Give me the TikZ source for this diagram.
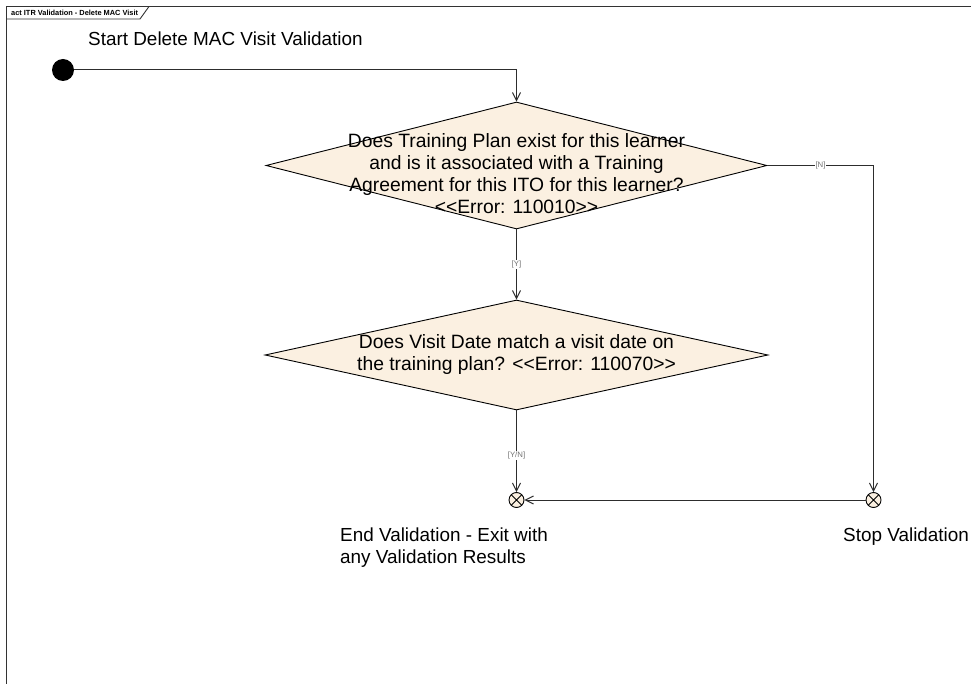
\documentclass[tikz,border=0pt]{standalone}
\usepackage{fontspec}
\setmainfont{Liberation Sans}
\usetikzlibrary{arrows.meta,positioning,shapes.geometric}
\definecolor{actfill}{RGB}{251,240,225}
\definecolor{lnk}{RGB}{45,45,45}
\tikzset{
  initnode/.style={circle,fill=black,minimum size=22pt,inner sep=0pt},
  decnode/.style={diamond,draw,fill=actfill,line width=0.9pt,inner sep=0pt},
  dtext/.style={align=center,font=\fontsize{19.3}{22}\selectfont,inner sep=0pt},
  fnode/.style={circle,draw,fill=actfill,line width=0.9pt,minimum size=15pt,inner sep=0pt,
    path picture={\draw[line width=0.9pt] (path picture bounding box.north west) -- (path picture bounding box.south east)
      (path picture bounding box.north east) -- (path picture bounding box.south west);}},
  lbl/.style={anchor=west,align=left,font=\fontsize{18.9}{22}\selectfont,inner sep=0pt},
  glbl/.style={font=\fontsize{7.8}{8}\selectfont,text=black!55,fill=white,inner sep=1pt},
  fe/.style={-{Straight Barb[length=8pt,width=8pt]},line width=1pt,draw=lnk}
}

\begin{document}
\begin{tikzpicture}[x=1pt,y=-1pt]
\useasboundingbox (0,0) rectangle (971,684);
\draw[line width=1.2pt,black!80] (971,6.5) -- (6.5,6.5) -- (6.5,684);
\draw[line width=0.9pt,black!80] (6.5,19) -- (140,19) -- (149,6.5);
\node[anchor=west,inner sep=0pt,font=\bfseries\fontsize{7.4}{8}\selectfont] (title) at (11,13) {act ITR Validation - Delete MAC Visit};

\node[initnode] (S) at (63,70) {};
\node[lbl] (Slbl) at (88,39) {Start Delete MAC Visit Validation};

\node[decnode,minimum width=501pt,minimum height=127pt] (D1) at (516.5,165.5) {};
\node[dtext] (D1txt) at (516.5,174) {Does Training Plan exist for this learner\\and is it associated with a Training\\Agreement for this ITO for this learner?\\<{}<Error: 110010>{}>};

\node[decnode,minimum width=503pt,minimum height=110pt] (D2) at (516.5,355) {};
\node[dtext] (D2txt) at (516.5,355) {Does Visit Date match a visit date on\\the training plan? <{}<Error: 110070>{}>};

\node[fnode] (E1) at (516.5,500) {};
\node[fnode] (E2) at (873.5,500) {};
\node[lbl] (E1lbl) at (340,548) {End Validation - Exit with\\any Validation Results};
\node[lbl] (E2lbl) at (843,537) {Stop Validation};

\draw[fe] (S) -| (D1.north);
\draw[fe] (D1.south) -- node[glbl] {[Y]} (D2.north);
\draw[fe] (D2.south) -- node[glbl,pos=0.55] {[Y/N]} (E1);
\draw[fe] (D1.east) -| node[glbl,pos=0.25] {[N]} (E2);
\draw[fe] (E2) -- (E1);
\end{tikzpicture}
\end{document}
